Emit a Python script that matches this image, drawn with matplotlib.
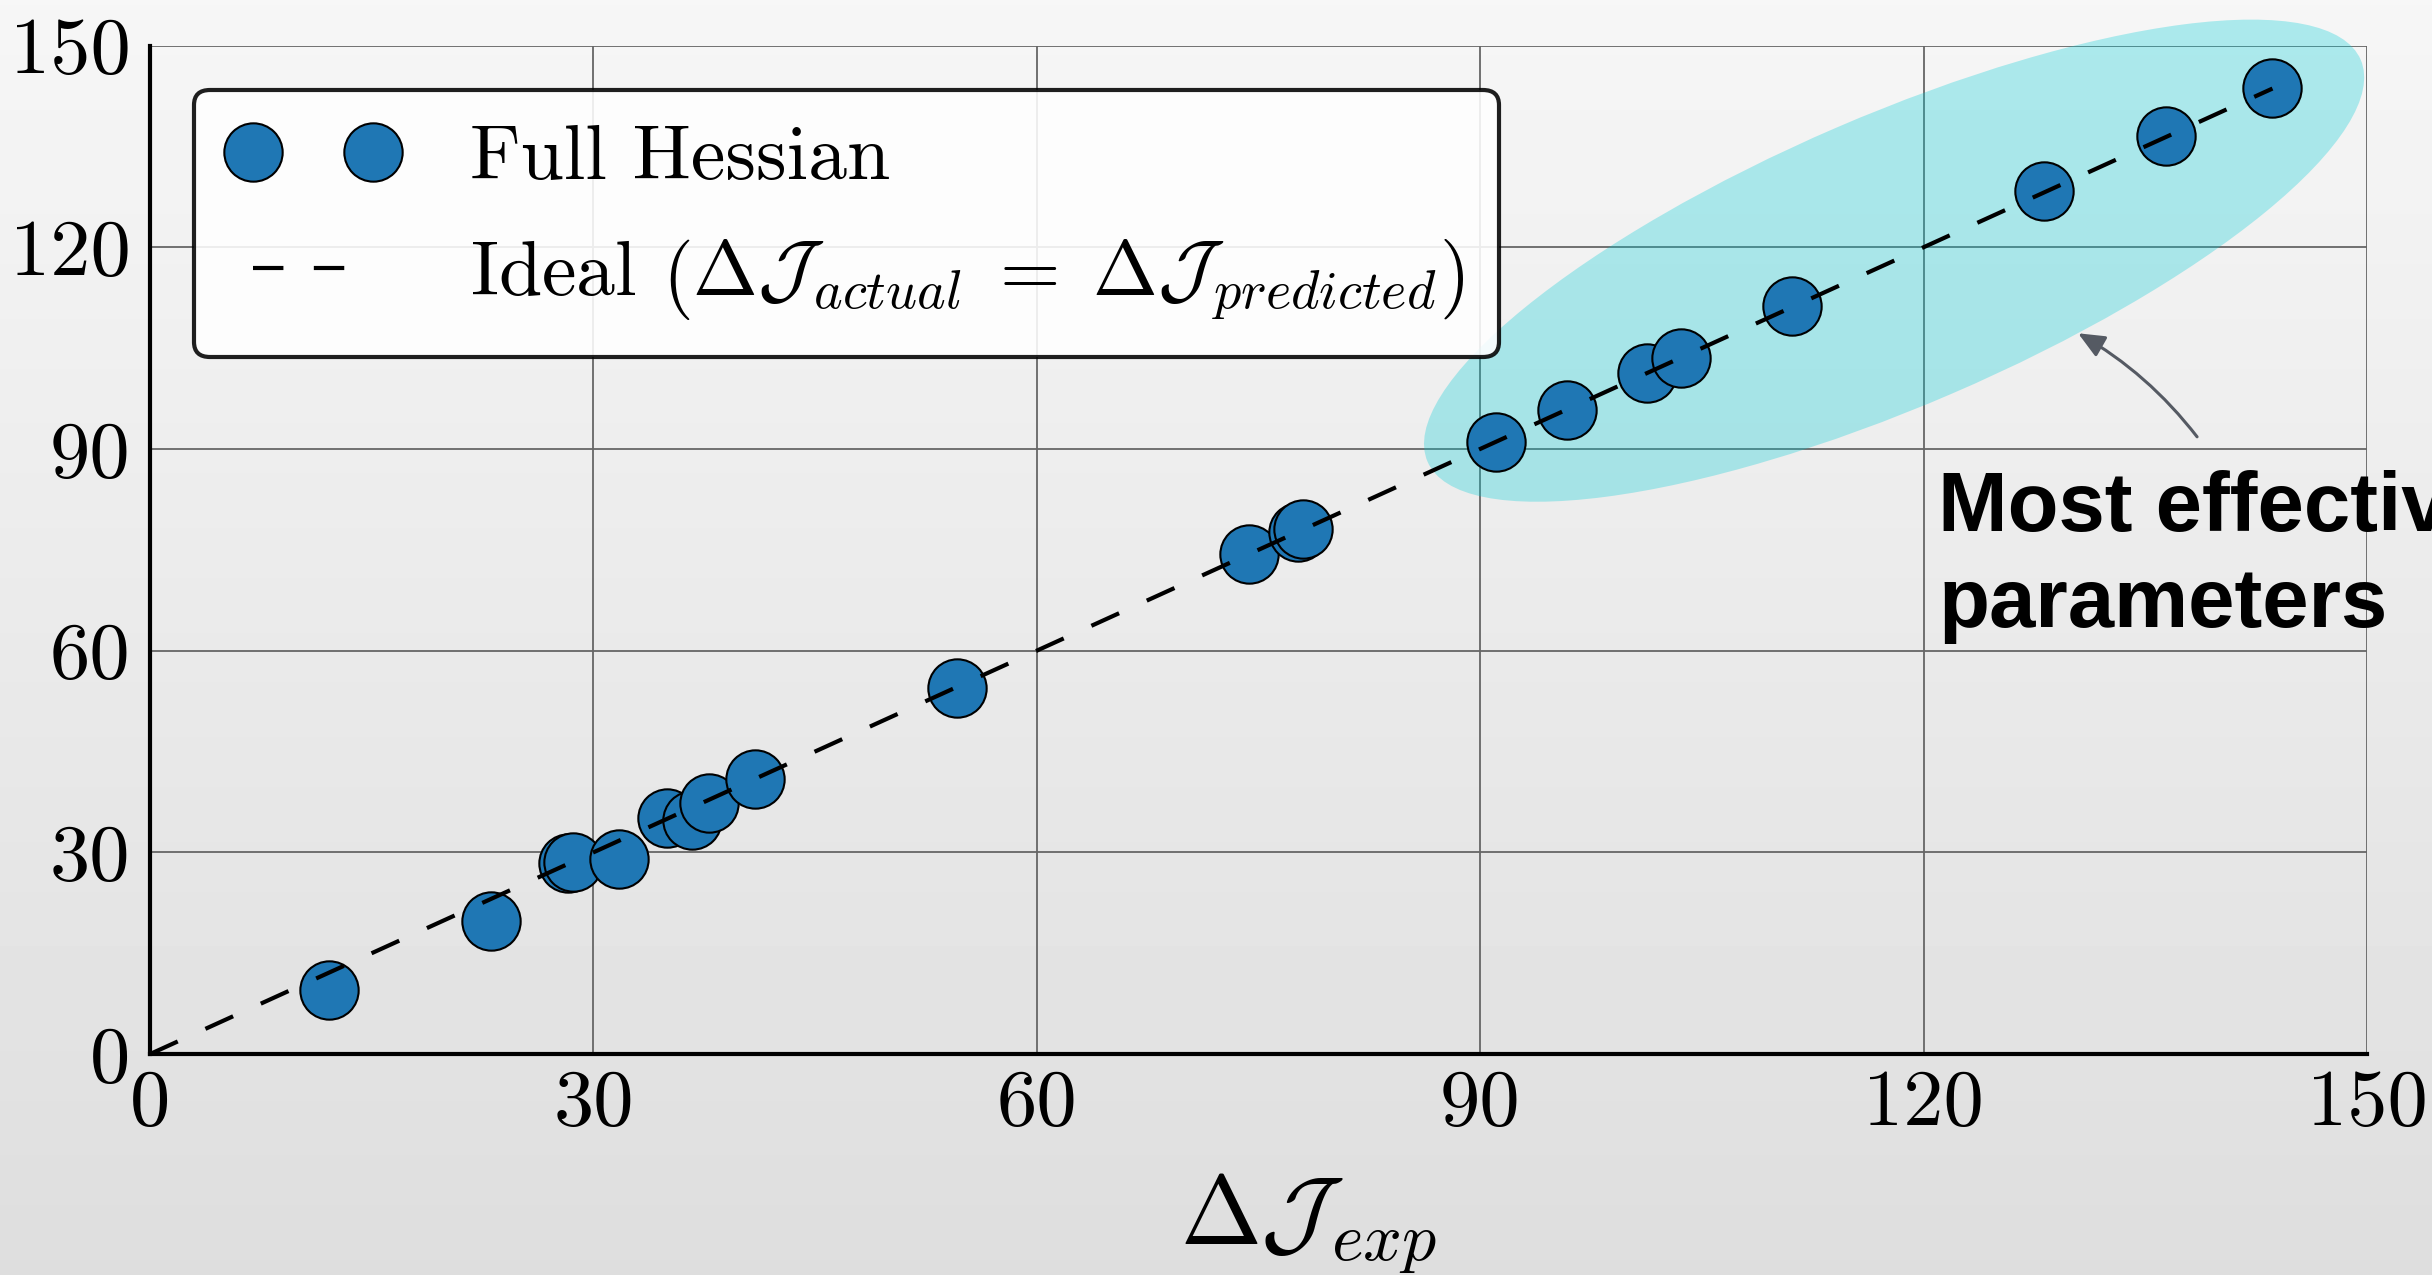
import numpy as np
import matplotlib
matplotlib.use("Agg")
import matplotlib.pyplot as plt
from matplotlib.patches import Ellipse
from matplotlib.transforms import ScaledTranslation

# Expected vs. realised objective change, one point per parameter
dj_exp = [12.1, 23.1, 28.3, 28.6, 31.7, 34.95, 36.7, 37.8, 40.95, 54.6,
          74.35, 77.7, 78.0, 91.05, 95.9, 101.25, 103.6, 111.1, 128.15, 136.4, 143.6]
dj_act = [9.5, 19.8, 28.35, 28.6, 28.95, 35.05, 34.8, 37.4, 40.9, 54.5,
          74.3, 77.7, 78.05, 91.0, 95.8, 101.25, 103.5, 111.2, 128.3, 136.5, 143.7]
ticks = [0, 30, 60, 90, 120, 150]
tick_labels = ["0", "30", "60", "90", "120", "150"]

series_label = "Full Hessian"
ideal_label = (r"Ideal $\left(\Delta\mathcal{J}_{actual}\;=\;"
               r"\Delta\mathcal{J}_{predicted}\right)$")
x_label = r"$\Delta\mathcal{J}_{exp}$"
note = "Most effective\nparameters"

plt.rcParams.update({
    "font.family": "serif",
    "font.serif": ["cmr10"],
    "mathtext.fontset": "cm",
    "axes.unicode_minus": False,
    "axes.formatter.use_mathtext": True,
})

fig = plt.figure(figsize=(24.32, 12.75), dpi=100)

# soft vertical grey gradient behind the whole figure
bg = fig.add_axes([0, 0, 1, 1], zorder=-10)
grad = np.linspace(0.87, 0.965, 256).reshape(-1, 1)
bg.imshow(grad, extent=[0, 1, 0, 1], aspect="auto", cmap="gray",
          vmin=0, vmax=1, origin="lower")
bg.set_axis_off()

ax = fig.add_axes([0.0617, 0.1733, 0.9116, 0.7910])
ax.set_facecolor("none")
ax.set_xlim(0, 150)
ax.set_ylim(0, 150)
ax.set_xticks(ticks)
ax.set_xticklabels(tick_labels)
ax.set_yticks(ticks)
ax.set_yticklabels(tick_labels)
ax.tick_params(axis="both", length=0, labelsize=58)
ax.tick_params(axis="x", pad=11)
ax.tick_params(axis="y", pad=14)
ax.grid(True, color="0.4", linewidth=1.3)
ax.set_axisbelow(True)
for s in ("top", "right"):
    ax.spines[s].set_visible(False)
for s in ("left", "bottom"):
    ax.spines[s].set_linewidth(3)
    ax.spines[s].set_color("black")

# highlight region around the largest changes
ell = Ellipse((0, 0), width=10.16, height=2.90, angle=23.3,
              transform=fig.dpi_scale_trans + ScaledTranslation(118.0, 118.0, ax.transData),
              facecolor=(0.0, 0.80, 0.84), alpha=0.3, edgecolor="none",
              zorder=1, clip_on=False)
ax.add_patch(ell)

ax.plot(dj_exp, dj_act, ls="none", marker="o", ms=42, mfc="#1f77b4",
        mec="black", mew=1.5, label=series_label, zorder=3)

lim = max(dj_exp)
ax.plot([0, lim], [0, lim], color="black", lw=3.0, ls=(0, (7.3, 7.3)),
        label=ideal_label, zorder=4)

leg = ax.legend(loc="upper left", numpoints=2, fontsize=56, framealpha=0.88,
                edgecolor="black", fancybox=True, handlelength=2.15,
                handletextpad=0.94, borderaxespad=0.57, borderpad=0.45,
                labelspacing=0.55)
leg.get_frame().set_linewidth(3)
leg.set_zorder(10)

ax.annotate("", xy=(130.45, 107.2), xytext=(138.5, 91.8),
            arrowprops=dict(arrowstyle="-|>,head_length=0.8,head_width=0.35",
                            color="#555a63", lw=2.2, mutation_scale=20,
                            shrinkA=0, shrinkB=0,
                            connectionstyle="arc3,rad=0.1"),
            annotation_clip=False)
ax.text(121.0, 86.9, note, fontsize=60, fontweight="bold",
        family="Liberation Sans", va="top", ha="left", linespacing=1.3)

ax.set_xlabel(x_label, fontsize=70, labelpad=22)
ax.xaxis.label.set_x(0.5225)

fig.savefig("out.png", dpi=100)
